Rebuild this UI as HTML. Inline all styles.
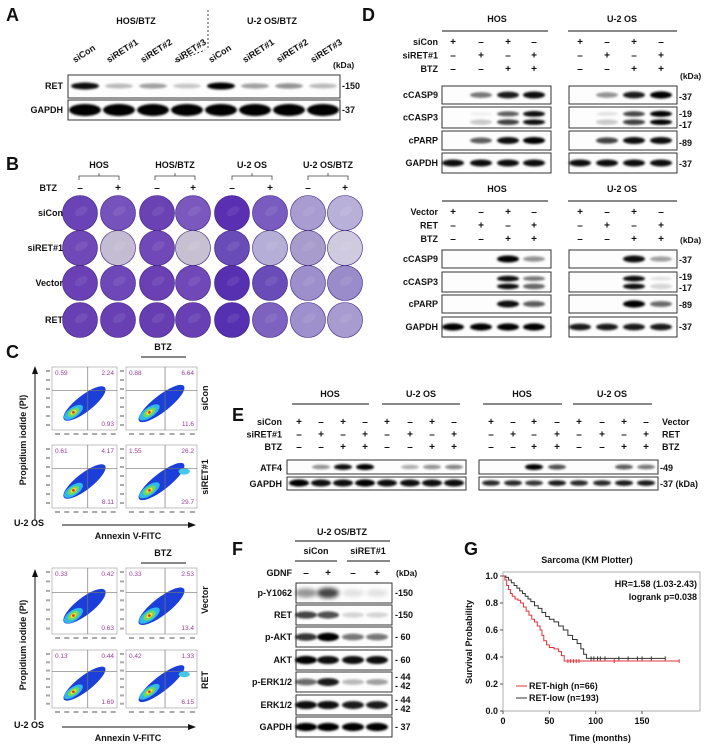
<!DOCTYPE html>
<html><head><meta charset="utf-8">
<style>
html,body{margin:0;padding:0;background:#fff;}
svg{display:block;font-family:"Liberation Sans",Arial,sans-serif;font-weight:bold;}
</style></head>
<body>
<svg id="fig" width="708" height="749" viewBox="0 0 708 749" xmlns="http://www.w3.org/2000/svg">
<defs>
<filter id="bl" x="-30%" y="-80%" width="160%" height="260%"><feGaussianBlur stdDeviation="1.1"/></filter>
<filter id="bl2" x="-30%" y="-80%" width="160%" height="260%"><feGaussianBlur stdDeviation="2.2"/></filter>
</defs>
<g id="root"></g>
</svg>
<script>
// ===== KM chart data (panel G) =====
const kmXTicks = [0, 50, 100, 150];
const kmYTicks = [0.0, 0.2, 0.4, 0.6, 0.8, 1.0];
const timesHigh = [0,2,4,6,8,10,13,16,19,22,25,28,31,34,37,40,42,44,47,50,55,60,63,66,190];
const survHigh  = [1,0.97,0.93,0.9,0.87,0.85,0.83,0.82,0.8,0.77,0.74,0.71,0.68,0.66,0.63,0.6,0.56,0.52,0.49,0.47,0.46,0.44,0.41,0.37,0.37];
const censorHigh = [70,73,76,79,82,120,190];
const timesLow = [0,3,6,9,12,15,18,21,24,27,30,34,38,42,46,50,55,60,65,70,75,80,84,87,90,175];
const survLow  = [1,0.99,0.97,0.95,0.93,0.91,0.89,0.87,0.85,0.83,0.81,0.78,0.76,0.73,0.7,0.68,0.66,0.63,0.6,0.56,0.53,0.5,0.46,0.42,0.39,0.39];
const censorLow = [95,98,102,105,110,125,135,145,150,160,175];

// ===== band intensities =====
const aRET = [0.9,0.25,0.35,0.2,0.95,0.35,0.4,0.25];
const aGAPDH = [1,1,1,1,1,1,1,1];
const dHosC9 = [0,0.5,0.85,0.9], dHosC3a=[0,0.05,0.6,0.9], dHosC3b=[0,0.2,0.75,0.95], dHosPARP=[0,0.6,0.9,0.95];
const dU2C9 = [0,0.4,0.85,1], dU2C3a=[0,0.1,0.7,1], dU2C3b=[0,0.2,0.75,1], dU2PARP=[0,0.7,0.9,0.9];
const dHosC9b=[0,0,0.95,0.4], dHosC3ab=[0,0,0.9,0.5], dHosC3bb=[0,0,0.95,0.6], dHosPARPb=[0,0,0.9,0.6];
const dU2C9b=[0,0,0.9,0.35], dU2C3ab=[0,0,0.9,0.1], dU2C3bb=[0,0,0.95,0.15], dU2PARPb=[0,0,1,0.55];
const eATF4L=[0,0.4,0.9,1,0,0.3,0.4,0.45], eATF4R=[0,0,0.95,0.65,0,0,0.6,0.5];
const fPY=[0.4,0.7,0.1,0.1], fRET=[0.7,0.65,0.15,0.15], fPAKT=[0.75,1,0.5,0.5], fAKT=[0.95,0.9,0.9,0.9], fPERK=[0.55,0.85,0.25,0.35], fERK=[0.9,0.9,0.85,0.85];

const NS="http://www.w3.org/2000/svg";
const root=document.getElementById('root');
function mk(tag,attrs,name,parent){
  const el=document.createElementNS(NS,tag);
  for(const k in attrs) el.setAttribute(k,attrs[k]);
  
  
  (parent||root).appendChild(el);
  return el;
}
function T(x,y,s,name,o){
  o=o||{};
  const a={x:x,y:y,'font-size':o.fs||9,fill:o.fill||'#111','text-anchor':o.anchor||'start'};
  if(o.rot!==undefined) a.transform='rotate('+o.rot+' '+x+' '+y+')';
  if(o.w) a['font-weight']=o.w;
  const el=mk('text',a,name);
  el.textContent=s;
  return el;
}
function L(x1,y1,x2,y2,name,o){
  o=o||{};
  return mk('line',{x1:x1,y1:y1,x2:x2,y2:y2,stroke:o.c||'#111','stroke-width':o.sw||1,'stroke-dasharray':o.da||'none'},name);
}
function blot(name,x0,y0,w,h,lanes,intens,by,bw,bh,blur){
  mk('rect',{x:x0,y:y0,width:w,height:h,fill:'#fdfdfd',stroke:'#333','stroke-width':1},name+'-frame');
  lanes.forEach((lx,i)=>{
    const v=intens[i]; if(v<=0.01) return;
    mk('ellipse',{cx:lx,cy:by,rx:bw/2,ry:bh/2*(0.7+0.5*v),fill:'#000',opacity:Math.min(1,v*1.05),filter:blur?'url(#bl2)':'url(#bl)'},name+'-band-'+(i+1));
  });
}
function pm(xs,y,arr,name){xs.forEach((x,i)=>T(x,y,arr[i],name+'-sign-'+(i+1),{anchor:'middle',fs:10}));}

// ========== Panel A ==========
T(6,21,'A','panel-a-label',{fs:18});
T(136,24,'HOS/BTZ','a-hos-btz-header',{anchor:'middle',fs:9});
T(272,24,'U-2 OS/BTZ','a-u2os-btz-header',{anchor:'middle',fs:9});
L(208,10,208,48,'a-divider',{da:'2,2',sw:0.8});
L(175,62,205,50,'a-short-dash',{da:'2,2',sw:0.8});
const aLanes=[85,119,153,187,221,255,289,323];
const aNames=['siCon','siRET#1','siRET#2','siRET#3','siCon','siRET#1','siRET#2','siRET#3'];
aLanes.forEach((x,i)=>T(x-10,63,aNames[i],'a-lane-label-'+(i+1),{rot:-33,fs:9}));
T(333,68,'(kDa)','a-kda',{fs:8.5});
T(63,89,'RET','a-ret-label',{anchor:'end'});
T(63,113,'GAPDH','a-gapdh-label',{anchor:'end'});
blot('a-ret-blot',68,75,272,23,aLanes,aRET,86,28,6);
blot('a-gapdh-blot',68,100,272,20,aLanes,aGAPDH,110,32,10);
T(342,89,'-150','a-marker-150',{fs:9});
T(342,113,'-37','a-marker-37',{fs:9});

// ========== Panel B ==========
T(6,170,'B','panel-b-label',{fs:18});
const bGroups=[['HOS',99],['HOS/BTZ',175],['U-2 OS',252],['U-2 OS/BTZ',328]];
bGroups.forEach((g,i)=>{
  T(g[1],168,g[0],'b-group-header-'+(i+1),{anchor:'middle',fs:9});
  mk('path',{d:'M'+(g[1]-20)+' 180 L'+(g[1]-20)+' 176 L'+(g[1]+20)+' 176 L'+(g[1]+20)+' 180 M'+g[1]+' 176 L'+g[1]+' 173',fill:'none',stroke:'#444','stroke-width':0.8},'b-brace-'+(i+1));
});
T(57,191,'BTZ','b-btz-label',{anchor:'end'});
const bX=[80,118,157,193,232,270,308,345];
pm(bX,191,['–','+','–','+','–','+','–','+'],'b-btz');
const bRowsY=[213,248,283,320];
const bRowNames=['siCon','siRET#1','Vector','RET'];
const dishColors=[
 ['#6a44b6','#7652bc','#6a42b4','#7a58be','#5a2fb2','#7a5cc0','#a99cd0','#b9b0da'],
 ['#7048b8','#c4bcd2','#7048b8','#c7c0d2','#6a4cb8','#b5aed6','#a89ccd','#cfcae0'],
 ['#6a40b4','#6e48b8','#6a40b4','#7048b8','#5630b0','#6a4cb8','#9d8fcb','#9a8cca'],
 ['#6840b4','#6840b4','#663eb2','#6840b4','#5530b0','#7d62c0','#9e90cc','#a79bcf']];
bRowsY.forEach((y,r)=>{
  T(63,y+3,bRowNames[r],'b-row-label-'+(r+1),{anchor:'end'});
  bX.forEach((x,c)=>{
    mk('circle',{cx:x,cy:y,r:17.5,fill:dishColors[r][c],stroke:'#3a2080','stroke-width':0.6},'b-dish-r'+(r+1)+'-c'+(c+1));
    mk('ellipse',{cx:x+2,cy:y-1,rx:7,ry:4,fill:'#fff',opacity:0.08,transform:'rotate(-30 '+x+' '+y+')'},'b-dish-texture-r'+(r+1)+'-c'+(c+1));
  });
});

// ========== Panel C ==========
T(6,358,'C','panel-c-label',{fs:18});
function flow(name,x,y,w,h,nums,extra){
  mk('rect',{x:x,y:y,width:w,height:h,fill:'#fff',stroke:'#999','stroke-width':0.6},name+'-frame');
  const cx=x+w*0.5, cy=y+h*0.58;
  const rot='rotate(-38 '+cx+' '+cy+')';
  mk('ellipse',{cx:cx,cy:cy,rx:w*0.4,ry:h*0.13,fill:'#1b3fd8',transform:rot},name+'-blob-outer');
  const ix=x+w*0.33, iy=y+h*0.72, r2='rotate(-35 '+ix+' '+iy+')';
  mk('ellipse',{cx:ix,cy:iy,rx:w*0.17,ry:h*0.08,fill:'#2fb8ec',transform:r2},name+'-blob-cyan');
  mk('ellipse',{cx:ix,cy:iy,rx:w*0.1,ry:h*0.055,fill:'#6fd860',transform:r2},name+'-blob-green');
  mk('ellipse',{cx:ix,cy:iy,rx:w*0.05,ry:h*0.03,fill:'#f0e030',transform:r2},name+'-blob-yellow');
  mk('circle',{cx:ix,cy:iy,r:1.3,fill:'#e02a20'},name+'-blob-red');
  if(extra) mk('ellipse',{cx:x+w*0.82,cy:y+h*0.42,rx:w*0.08,ry:h*0.05,fill:'#45c8e8'},name+'-blob-extra');
  L(x+w*0.55,y,x+w*0.55,y+h,name+'-gate-v',{c:'#777',sw:0.7});
  L(x,y+h*0.37,x+w,y+h*0.37,name+'-gate-h',{c:'#777',sw:0.7});
  T(x+3,y+8,nums[0],name+'-q-ul',{fs:6.5,fill:'#9a3d96',w:'normal'});
  T(x+w-3,y+8,nums[1],name+'-q-ur',{fs:6.5,fill:'#9a3d96',w:'normal',anchor:'end'});
  T(x+w-3,y+h-4,nums[2],name+'-q-lr',{fs:6.5,fill:'#9a3d96',w:'normal',anchor:'end'});
  for(let i=0;i<7;i++){
    mk('rect',{x:x+3+i*w/7,y:y+h+3,width:5,height:2,fill:'#aaa'},name+'-xtick-'+(i+1));
    mk('rect',{x:x-6,y:y+3+i*h/7,width:4,height:2,fill:'#aaa'},name+'-ytick-'+(i+1));
  }
}
T(163,350,'BTZ','c-btz-top',{anchor:'middle'});
L(141,357,186,357,'c-btz-top-line');
flow('c-flow-sicon-ctrl',52,367,65,63,['0.59','2.24','0.93']);
flow('c-flow-sicon-btz',126,367,71,63,['0.88','6.64','11.6']);
flow('c-flow-siret-ctrl',52,445,65,63,['0.61','4.17','8.11']);
flow('c-flow-siret-btz',126,445,71,63,['1.55','26.2','29.7'],true);
T(208,398,'siCon','c-row-sicon',{rot:-90,anchor:'middle'});
T(208,477,'siRET#1','c-row-siret',{rot:-90,anchor:'middle'});
T(26,440,'Propidium iodide (PI)','c-y-title-top',{rot:-90,anchor:'middle',fs:9});
L(35,520,35,372,'c-y-arrow-top');
mk('path',{d:'M32 374 L35 366 L38 374 Z',fill:'#111'},'c-y-arrowhead-top');
T(14,526,'U-2 OS','c-cell-top',{fs:9});
L(62,525,190,525,'c-x-arrow-top');
mk('path',{d:'M188 522 L196 525 L188 528 Z',fill:'#111'},'c-x-arrowhead-top');
T(128,539,'Annexin V-FITC','c-x-title-top',{anchor:'middle',fs:9});

T(163,556,'BTZ','c-btz-bottom',{anchor:'middle'});
L(141,563,186,563,'c-btz-bottom-line');
flow('c-flow-vector-ctrl',52,568,65,66,['0.33','0.42','0.63']);
flow('c-flow-vector-btz',126,568,71,66,['0.33','2.53','13.4']);
flow('c-flow-ret-ctrl',52,650,65,58,['0.13','0.44','1.69']);
flow('c-flow-ret-btz',126,650,71,58,['0.42','1.33','6.15'],true);
T(208,600,'Vector','c-row-vector',{rot:-90,anchor:'middle'});
T(208,680,'RET','c-row-ret',{rot:-90,anchor:'middle'});
T(26,645,'Propidium iodide (PI)','c-y-title-bottom',{rot:-90,anchor:'middle',fs:9});
L(35,720,35,575,'c-y-arrow-bottom');
mk('path',{d:'M32 577 L35 569 L38 577 Z',fill:'#111'},'c-y-arrowhead-bottom');
T(14,728,'U-2 OS','c-cell-bottom',{fs:9});
L(62,727,190,727,'c-x-arrow-bottom');
mk('path',{d:'M188 724 L196 727 L188 730 Z',fill:'#111'},'c-x-arrowhead-bottom');
T(128,741,'Annexin V-FITC','c-x-title-bottom',{anchor:'middle',fs:9});

// ========== Panel D ==========
T(362,21,'D','panel-d-label',{fs:18});
const dL=[453,481,508,534], dR=[580,607,634,661];
function dHeader(y,labels,rows,suffix){
  T(497,y,'HOS','d-hos-header-'+suffix,{anchor:'middle'});
  L(442,y+9,548,y+9,'d-hos-line-'+suffix);
  T(622,y,'U-2 OS','d-u2os-header-'+suffix,{anchor:'middle'});
  L(568,y+9,677,y+9,'d-u2os-line-'+suffix);
  labels.forEach((l,i)=>{
    T(438,y+23+i*13.5,l,'d-treat-label-'+suffix+'-'+(i+1),{anchor:'end'});
    pm(dL,y+23+i*13.5,rows[i],'d-'+suffix+'-hos-r'+(i+1));
    pm(dR,y+23+i*13.5,rows[i],'d-'+suffix+'-u2-r'+(i+1));
  });
}
const sgn=[['+','–','+','–'],['–','+','–','+'],['–','–','+','+']];
dHeader(22,['siCon','siRET#1','BTZ'],sgn,'top');
T(680,79,'(kDa)','d-kda-top',{fs:8.5});
function dBlock(suffix,ys,data){
  const names=['cCASP9','cCASP3','cPARP','GAPDH'];
  names.forEach((n,i)=>{
    const [y0,h]=ys[i];
    T(438,y0+h/2+3,n,'d-'+suffix+'-label-'+n,{anchor:'end'});
    const two=(n==='cCASP3');
    blot('d-'+suffix+'-hos-'+n,442,y0,109,h,dL,two?data[0][1][0]:data[0][i],two?y0+h*0.33:y0+h/2,22,two?5:6);
    blot('d-'+suffix+'-u2-'+n,569,y0,108,h,dR,two?data[1][1][0]:data[1][i],two?y0+h*0.33:y0+h/2,22,two?5:6);
    if(two){
      dL.forEach((x,j)=>{const v=data[0][1][1][j]; if(v>0.01) mk('ellipse',{cx:x,cy:y0+h*0.72,rx:11,ry:2.8,fill:'#000',opacity:v,filter:'url(#bl)'},'d-'+suffix+'-hos-cCASP3-low-'+(j+1));});
      dR.forEach((x,j)=>{const v=data[1][1][1][j]; if(v>0.01) mk('ellipse',{cx:x,cy:y0+h*0.72,rx:11,ry:2.8,fill:'#000',opacity:v,filter:'url(#bl)'},'d-'+suffix+'-u2-cCASP3-low-'+(j+1));});
    }
  });
}
const G1=[0.9,0.9,0.9,0.9];
dBlock('top',[[86,18],[107,21],[131,19],[153,20]],[[dHosC9,[dHosC3a,dHosC3b],dHosPARP,G1],[dU2C9,[dU2C3a,dU2C3b],dU2PARP,G1]]);
T(679,100,'-37','d-top-m37a',{fs:9});T(679,117,'-19','d-top-m19',{fs:9});T(679,128,'-17','d-top-m17',{fs:9});T(679,146,'-89','d-top-m89',{fs:9});T(679,167,'-37','d-top-m37b',{fs:9});
dHeader(192,['Vector','RET','BTZ'],sgn,'bottom');
T(680,243,'(kDa)','d-kda-bottom',{fs:8.5});
dBlock('bottom',[[250,18],[272,20],[295,18],[317,20]],[[dHosC9b,[dHosC3ab,dHosC3bb],dHosPARPb,[1,1,1,1]],[dU2C9b,[dU2C3ab,dU2C3bb],dU2PARPb,[0.85,0.85,0.85,0.85]]]);
T(679,263,'-37','d-bot-m37a',{fs:9});T(679,280,'-19','d-bot-m19',{fs:9});T(679,291,'-17','d-bot-m17',{fs:9});T(679,308,'-89','d-bot-m89',{fs:9});T(679,330,'-37','d-bot-m37b',{fs:9});

// ========== Panel E ==========
T(232,421,'E','panel-e-label',{fs:18});
const eL=[299,321,343,365,387,410,432,454], eR=[491,513,534,557,579,602,624,646];
[['HOS',330,292,369],['U-2 OS',421,382,460],['HOS',522,483,562],['U-2 OS',612,573,652]].forEach((g,i)=>{
  T(g[1],397,g[0],'e-header-'+(i+1),{anchor:'middle'});
  L(g[2],404,g[3],404,'e-header-line-'+(i+1));
});
const eS=[['+','–','+','–','+','–','+','–'],['–','+','–','+','–','+','–','+'],['–','–','+','+','–','–','+','+']];
['siCon','siRET#1','BTZ'].forEach((l,i)=>{T(282,425+i*12.5,l,'e-left-label-'+(i+1),{anchor:'end'}); pm(eL,425+i*12.5,eS[i],'e-left-r'+(i+1));});
['Vector','RET','BTZ'].forEach((l,i)=>{T(662,425+i*12.5,l,'e-right-label-'+(i+1)); pm(eR,425+i*12.5,eS[i],'e-right-r'+(i+1));});
T(282,471,'ATF4','e-atf4-label',{anchor:'end'});
T(282,487,'GAPDH','e-gapdh-label',{anchor:'end'});
blot('e-atf4-left',287,460,179,14,eL,eATF4L,467,18,5);
blot('e-gapdh-left',287,477,179,13,eL,[1,0.9,0.9,1,0.9,0.9,0.9,0.9],483,20,6);
blot('e-atf4-right',479,460,179,14,eR,eATF4R,467,18,5);
blot('e-gapdh-right',479,477,179,13,eR,[0.8,0.8,0.75,0.85,0.8,0.8,0.85,0.85],483,18,5);
T(660,471,'-49','e-m49',{fs:9});
T(660,487,'-37 (kDa)','e-m37',{fs:9});

// ========== Panel F ==========
T(232,555,'F','panel-f-label',{fs:18});
T(342,535,'U-2 OS/BTZ','f-header',{anchor:'middle'});
L(295,541,390,541,'f-header-line');
T(316,554,'siCon','f-sicon',{anchor:'middle'});L(295,561,337,561,'f-sicon-line');
T(368,554,'siRET#1','f-siret',{anchor:'middle'});L(347,561,390,561,'f-siret-line');
T(292,576,'GDNF','f-gdnf-label',{anchor:'end'});
const fL=[306,328,353,377];
pm(fL,576,['–','+','–','+'],'f-gdnf');
T(396,576,'(kDa)','f-kda',{fs:8.5});
const fRows=[['p-Y1062',583,fPY,['-150']],['RET',605,fRET,['-150']],['p-AKT',627,fPAKT,['- 60']],['AKT',650,fAKT,['- 60']],['p-ERK1/2',672,fPERK,['- 44','- 42']],['ERK1/2',695,fERK,['- 44','- 42']],['GAPDH',717,[0.95,0.95,0.95,0.95],['- 37']]];
fRows.forEach((r,i)=>{
  T(292,r[1]+13,r[0],'f-label-'+(i+1),{anchor:'end'});
  blot('f-blot-'+(i+1),296,r[1],96,20,fL,r[2],r[1]+10,22,i===0?10:7,i===0);
  if(r[3].length===1) T(395,r[1]+13,r[3][0],'f-marker-'+(i+1),{fs:9});
  else {T(395,r[1]+8,r[3][0],'f-marker-'+(i+1)+'a',{fs:9});T(395,r[1]+17,r[3][1],'f-marker-'+(i+1)+'b',{fs:9});}
});

// ========== Panel G (KM plot) ==========
T(464,555,'G','panel-g-label',{fs:18});
const gx0=503,gx1=700,gy0=572,gy1=711;
const xS=t=>gx0+t*0.927;
const yS=s=>gy1-s*135;
T(587,563,'Sarcoma (KM Plotter)','g-title',{anchor:'middle'});
mk('rect',{x:gx0,y:gy0,width:gx1-gx0,height:gy1-gy0,fill:'none',stroke:'#999','stroke-width':0.8},'g-plot-frame');
kmYTicks.forEach((v,i)=>{L(gx0-3,yS(v),gx0,yS(v),'g-ytick-'+i,{c:'#555'});T(gx0-5,yS(v)+3,v.toFixed(1),'g-ytick-label-'+i,{anchor:'end',fs:9});});
kmXTicks.forEach((v,i)=>{L(xS(v),gy1,xS(v),gy1+3,'g-xtick-'+i,{c:'#555'});T(xS(v),gy1+13,String(v),'g-xtick-label-'+i,{anchor:'middle',fs:9});});
T(600,741,'Time (months)','g-x-title',{anchor:'middle',fs:9});
T(472,642,'Survival Probability','g-y-title',{rot:-90,anchor:'middle',fs:9});
function step(ts,ss){let d='M'+xS(ts[0])+' '+yS(ss[0]);for(let i=1;i<ts.length;i++){d+=' H'+xS(ts[i])+' V'+yS(ss[i]);}return d;}
function survAt(ts,ss,t){let s=ss[0];for(let i=0;i<ts.length;i++){if(ts[i]<=t)s=ss[i];}return s;}
mk('path',{d:step(timesLow,survLow),fill:'none',stroke:'#333','stroke-width':1},'g-line-ret-low');
mk('path',{d:step(timesHigh,survHigh),fill:'none',stroke:'#e0323a','stroke-width':1},'g-line-ret-high');
censorLow.forEach((t,i)=>{const y=yS(survAt(timesLow,survLow,t));L(xS(t),y-2,xS(t),y+2,'g-censor-low-'+(i+1),{c:'#333'});});
censorHigh.forEach((t,i)=>{const y=yS(survAt(timesHigh,survHigh,t));L(xS(t),y-2,xS(t),y+2,'g-censor-high-'+(i+1),{c:'#e0323a'});});
T(697,587,'HR=1.58 (1.03-2.43)','g-hr-text',{anchor:'end',fs:9});
T(697,600,'logrank p=0.038','g-logrank-text',{anchor:'end',fs:9});
L(516,686,527,686,'g-legend-high-swatch',{c:'#e0323a'});
T(529,689,'RET-high (n=66)','g-legend-high',{fs:9});
L(516,698,527,698,'g-legend-low-swatch',{c:'#333'});
T(529,701,'RET-low (n=193)','g-legend-low',{fs:9});
</script>
</body></html>
